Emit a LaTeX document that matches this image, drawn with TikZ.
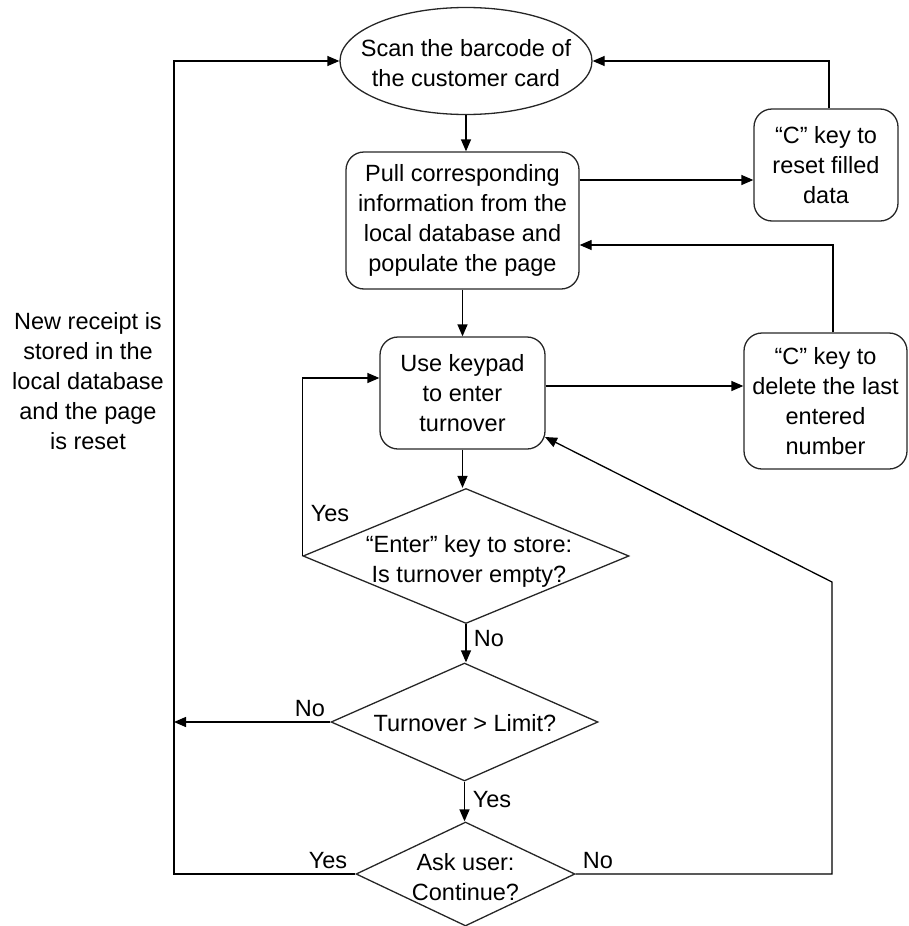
\documentclass[tikz,border=0pt]{standalone}
\usepackage{fontspec}
\setmainfont{Liberation Sans}
\usetikzlibrary{shapes.geometric,arrows.meta,calc}
\begin{document}
\begin{tikzpicture}[x=1pt,y=-1pt,
  every node/.style={font=\fontsize{23.5}{30}\selectfont, align=center},
  shapeline/.style={draw=black!85, line width=1.3pt},
  roundbox/.style={shapeline, rounded corners=18pt, inner sep=0pt},
  ovalshape/.style={shapeline, ellipse, inner sep=0pt},
  decision/.style={shapeline, diamond, inner sep=0pt},
  arr/.style={line width=1.3pt, -{Triangle[length=12pt,width=10pt]}},
  conn/.style={line width=1.3pt},
  lbl/.style={inner sep=0pt}
]
\useasboundingbox (0,0) rectangle (909,926);

% start ellipse
\node[ovalshape, minimum width=252pt, minimum height=107pt] (scan) at (466,61) {};
\node (scantext) at (466,63) {Scan the barcode of\\the customer card};

% boxes
\node[roundbox, minimum width=233pt, minimum height=137pt] (pull) at (462.5,220.5)
  {Pull corresponding\\information from the\\local database and\\populate the page};
\node[roundbox, minimum width=144pt, minimum height=112pt] (reset) at (826,165)
  {“C” key to\\reset filled\\data};
\node[roundbox, minimum width=163pt, minimum height=136pt] (delete) at (825.5,401)
  {“C” key to\\delete the last\\entered\\number};
\node[roundbox, minimum width=165pt, minimum height=112pt] (keypad) at (462.5,393)
  {Use keypad\\to enter\\turnover};

% decisions
\node[decision, minimum width=326pt, minimum height=135pt] (d1) at (466,556) {};
\node (d1text) at (469,561) {“Enter” key to store:\\Is turnover empty?};
\node[decision, minimum width=267pt, minimum height=118pt] (d2) at (464.5,722) {};
\node (d2text) at (465,723) {Turnover > Limit?};
\node[decision, minimum width=219pt, minimum height=104pt] (d3) at (465.5,874) {};
\node (d3text) at (465.5,877) {Ask user:\\Continue?};

% side text
\node (note) at (88,381) {New receipt is\\stored in the\\local database\\and the page\\is reset};

% helper coordinates
\coordinate (lc) at (174,874);
\coordinate (lmid) at (174,722);
\coordinate (rc) at (832,582);
\coordinate (kp) at (545,437);

% connectors
\draw[arr] (scan.south) -- (scan.south |- pull.north);
\draw[arr] ([yshift=40.5pt]pull.east) -- ([yshift=40.5pt]pull.east -| reset.west);
\draw[arr] ([xshift=3pt]reset.north) |- (scan.east);
\draw[arr] ([xshift=7.5pt]delete.north) |- ([yshift=-24.5pt]pull.east);
\draw[arr] (pull.south) -- (keypad.north);
\draw[arr] ([yshift=7pt]keypad.east) -- ([yshift=7pt]keypad.east -| delete.west);
\draw[arr] (keypad.south) -- (keypad.south |- d1.north);
\draw[arr] (d1.west) |- ([yshift=15pt]keypad.west);
\draw[arr] (d1.south) -- (d1.south |- d2.north);
\draw[arr] (d2.west) -- (lmid);
\draw[arr] (d2.south) -- (d2.south |- d3.north);
\draw[arr] (d3.west) -- (lc) |- (scan.west);
\draw[arr] (d3.east) -| (rc) -- (kp);

% labels
\node[lbl] (yes1) at (330,514) {Yes};
\node[lbl] (no1) at (489,639) {No};
\node[lbl] (no2) at (310,709) {No};
\node[lbl] (yes2) at (492,800) {Yes};
\node[lbl] (yes3) at (328,861) {Yes};
\node[lbl] (no3) at (598,861) {No};
\end{tikzpicture}
\end{document}
